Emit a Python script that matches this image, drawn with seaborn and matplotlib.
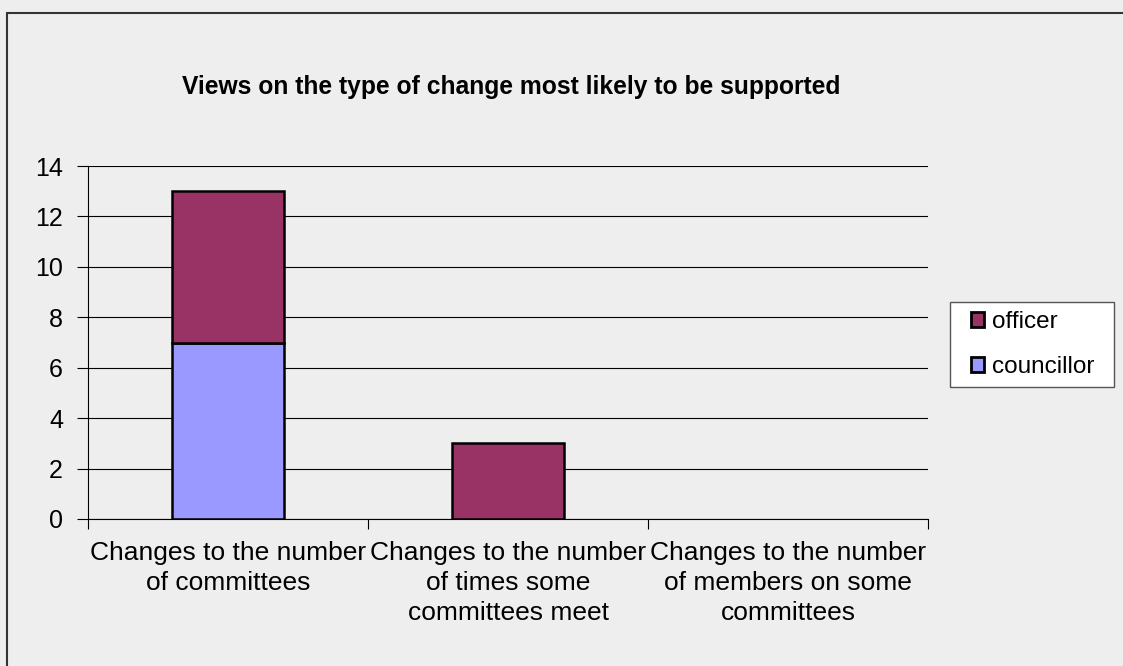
import numpy as np
import pandas as pd
import matplotlib
matplotlib.use("Agg")
import matplotlib.pyplot as plt
import seaborn as sns
from matplotlib.patches import Rectangle, Patch

categories = [
    "Changes to the number\nof committees",
    "Changes to the number\nof times some\ncommittees meet",
    "Changes to the number\nof members on some\ncommittees",
]
councillor = [7, 0, 0]
officer = [6, 3, 0]
title = "Views on the type of change most likely to be supported"

sns.set_style("white")
plt.rcParams["font.family"] = ["Liberation Sans", "DejaVu Sans"]
plt.rcParams["text.color"] = "black"
plt.rcParams["xtick.color"] = "black"
plt.rcParams["ytick.color"] = "black"

bg = "#eeeeee"
fig = plt.figure(figsize=(11.23, 6.66), dpi=100, facecolor=bg)
ax = fig.add_axes([88 / 1123, 1 - 519 / 666, 840 / 1123, 353 / 666])
ax.set_facecolor(bg)

df = pd.DataFrame({"cat": categories, "councillor": councillor, "officer": officer})

sns.barplot(data=df, x="cat", y="councillor", color="#9999ff", width=0.4,
            edgecolor="black", linewidth=1.8, ax=ax, saturation=1)
sns.barplot(data=df, x="cat", y="officer", color="#993366", width=0.4,
            edgecolor="black", linewidth=1.8, ax=ax, saturation=1,
            bottom=df["councillor"])
# empty segments are not drawn
for p in ax.patches:
    if p.get_height() == 0:
        p.set_visible(False)

ax.set_xlim(-0.5, 2.5)
ax.set_ylim(0, 14)
ax.set_yticks(range(0, 15, 2))
ax.yaxis.grid(True, color="black", linewidth=0.8)
ax.set_axisbelow(True)
for s in ["top", "right"]:
    ax.spines[s].set_visible(False)
ax.spines["left"].set_color("black")
ax.spines["bottom"].set_color("black")
ax.spines["left"].set_linewidth(0.8)
ax.spines["bottom"].set_linewidth(0.8)

# category ticks at boundaries, labels centered
ax.set_xticks([-0.5, 0.5, 1.5, 2.5])
ax.set_xticklabels([])
ax.set_xticks([0, 1, 2], minor=True)
ax.set_xticklabels(categories, minor=True, fontsize=19, linespacing=1.31)
ax.tick_params(axis="x", which="major", direction="out", length=7, width=0.8,
               color="black", bottom=True)
ax.tick_params(axis="x", which="minor", length=0, pad=16)
ax.tick_params(axis="y", direction="out", length=8, width=0.8, color="black",
               left=True, labelsize=18, pad=10)
ax.set_xlabel("")
ax.set_ylabel("")

fig.text(511 / 1123, 1 - 87 / 666, title, ha="center", va="center",
         fontsize=17.7, fontweight="bold")

# legend box
fig.patches.append(Rectangle((950 / 1123, 1 - 387 / 666), 164 / 1123, 85 / 666,
                             transform=fig.transFigure, facecolor="white",
                             edgecolor="#555555", linewidth=1.0, zorder=2))
handles = [Patch(facecolor="#993366", edgecolor="black", linewidth=2, label="officer"),
           Patch(facecolor="#9999ff", edgecolor="black", linewidth=2, label="councillor")]
leg = fig.legend(handles=handles, loc="center left",
                 bbox_to_anchor=(971 / 1123, 1 - 344.5 / 666), fontsize=17.5,
                 frameon=False, handlelength=0.55, handleheight=0.55,
                 handletextpad=0.3, labelspacing=0.95, borderpad=0,
                 borderaxespad=0)
leg.set_zorder(3)

fig.patches.append(Rectangle((7 / 1123, -0.1), 1.2, 1 - 13 / 666 + 0.1,
                             transform=fig.transFigure, fill=False,
                             edgecolor="#333333", linewidth=1.5))

fig.savefig("out.png", dpi=100, facecolor=bg)
